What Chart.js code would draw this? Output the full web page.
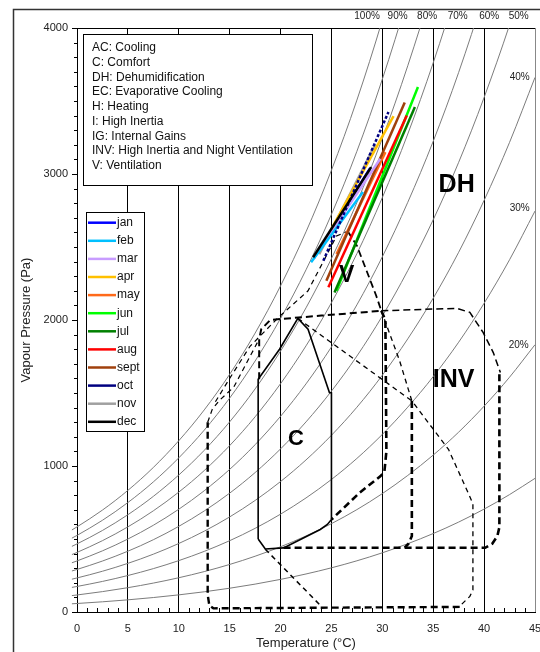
<!DOCTYPE html>
<html>
<head>
<meta charset="utf-8">
<script src="https://cdn.jsdelivr.net/npm/chart.js@4/dist/chart.umd.min.js"></script>
<style>
  html, body { margin: 0; padding: 0; background: #fff; }
  #wrap { width: 540px; height: 652px; }
</style>
</head>
<body>
<div id="wrap"><canvas id="chart" width="540" height="652"></canvas></div>
<script>
// saturation vapour pressure (Pa)
const satTemps = [-0.5, 0, 2.5, 5, 7.5, 10, 12.5, 15, 17.5, 20, 22.5, 25, 27.5, 30, 32.5, 35, 37.5, 40, 42.5, 45];
const satPressure = [562, 583, 698, 833, 990, 1173, 1384, 1628, 1910, 2234, 2604, 3026, 3506, 4055, 4677, 5374, 6160, 7049, 8042, 9154];
const rhLevels = [10, 20, 30, 40, 50, 60, 70, 80, 90, 100];

// relative humidity labels, placed at the curve ends
const rhLabelText = ['100%', '90%', '80%', '70%', '60%', '50%', '40%', '30%', '20%'];
const rhLabelT = [28.5, 31.5, 34.4, 37.4, 40.5, 43.4, 43.5, 43.5, 43.4];
const rhLabelP = [4080, 4080, 4080, 4080, 4080, 4080, 3660, 2768, 1828];

// monthly lines (low end -> high end)
const months = ['jan', 'feb', 'mar', 'apr', 'may', 'jun', 'jul', 'aug', 'sept', 'oct', 'nov', 'dec'];
const monthColors = ['#0000ff', '#00c0ff', '#c89cff', '#ffc000', '#ff6a1a', '#00ff00', '#008000', '#ff0000', '#a0400c', '#000080', '#a0a0a0', '#000000'];
const monthTLow = [23.3, 23.0, 23.4, 25.0, 25.5, 25.5, 25.3, 24.7, 24.5, 24.2, 23.8, 23.2];
const monthPLow = [2425, 2395, 2440, 2624, 2452, 2200, 2189, 2224, 2269, 2406, 2450, 2430];
const monthTHigh = [28.8, 28.1, 29.8, 31.1, 30.3, 33.5, 33.2, 32.4, 32.2, 30.6, 29.3, 28.9];
const monthPHigh = [3040, 2876, 3104, 3397, 3150, 3596, 3459, 3401, 3489, 3424, 3200, 3047];
const monthOrder = [12, 5, 6, 4, 8, 11, 10, 9, 7, 3, 13, 1];

// zone boundaries [temperature, vapour pressure]
const comfortZone = [[17.8, 500], [17.8, 1594], [19.9, 1800], [21.7, 2011], [22.7, 1937], [24.8, 1503], [25, 1500], [25, 633], [24.6, 600], [23.9, 565], [20.3, 439], [18.5, 432], [17.8, 500]];
const ventTopLeft = [[17.9, 1594], [17.9, 1869], [18.1, 1937], [19.0, 2001], [24, 2030], [29.9, 2063]];
const ventRight = [[29.9, 2063], [30.3, 2000], [30.4, 1100], [30.2, 960], [29.8, 929], [27.8, 819], [25, 633]];
const ventPeakRight = [[26.6, 2608], [27.5, 2509], [29.4, 2166], [29.9, 2063]];
const invOuter = [[20.3, 440], [40.1, 440], [40.8, 468], [41.3, 520], [41.5, 580], [41.5, 1640]];
const invTop = [[29.9, 2063], [37.3, 2080], [38.6, 2052], [39.9, 1915], [40.9, 1777], [41.6, 1640]];
const inertiaRight = [[32.9, 1446], [32.9, 520], [32.6, 470], [32.2, 440]];
const comfortDiag = [[21.7, 2011], [32.9, 1446]];
const evapRight = [[29.9, 2063], [31.7, 1720], [32.9, 1446], [36.5, 1114], [38.6, 790], [38.9, 740], [38.9, 150], [38.6, 107], [37.6, 40]];
const heatingZone = [[37.6, 35], [13.4, 25], [13.0, 45], [12.84, 120], [12.84, 1300]];
const comfortToBottom = [[18.5, 430], [24.0, 39]];
const leftLower = [[12.84, 1300], [13.3, 1390], [14.0, 1450], [15.4, 1540], [17.9, 1869]];
const leftUpper = [[13.6, 1440], [15.0, 1600], [17.0, 1820], [19.8, 2018], [22.7, 2200], [25.5, 2575], [26.6, 2608]];

const zoneLabels = [
  { text: 'DH', t: 37.3, p: 2926, size: 25 },
  { text: 'V', t: 26.5, p: 2301, size: 23 },
  { text: 'INV', t: 37.0, p: 1587, size: 25 },
  { text: 'C', t: 21.5, p: 1182, size: 22 }
];
const legendText = ['AC: Cooling', 'C: Comfort', 'DH: Dehumidification', 'EC: Evaporative Cooling', 'H: Heating',
  'I: High Inertia', 'IG: Internal Gains', 'INV: High Inertia and Night Ventilation', 'V: Ventilation'];

const FONT = 'Liberation Sans, Arial, sans-serif';
Chart.defaults.font.family = FONT;

function zoneSet(points, width, dash) {
  return {
    data: points.map(p => ({ x: p[0], y: p[1] })),
    showLine: true, borderColor: '#000', borderWidth: width, borderDash: dash,
    pointRadius: 0, tension: 0, order: 20
  };
}

const datasets = [];
months.forEach((m, i) => {
  datasets.push({
    label: m,
    data: [{ x: monthTLow[i], y: monthPLow[i] }, { x: monthTHigh[i], y: monthPHigh[i] }],
    showLine: true, borderColor: monthColors[i], borderWidth: 2.5, pointRadius: 0,
    borderDash: m === 'oct' ? [3, 2] : [], order: monthOrder[i]
  });
});
const THICK = [7, 4], THIN = [5, 4];
datasets.push(zoneSet(comfortZone, 1.6, []));
datasets.push(zoneSet(ventTopLeft, 2, THICK));
datasets.push(zoneSet(ventRight, 2.6, THICK));
datasets.push(zoneSet(ventPeakRight, 1.8, THICK));
datasets.push(zoneSet(invOuter, 2.6, THICK));
datasets.push(zoneSet(invTop, 1.5, THICK));
datasets.push(zoneSet(inertiaRight, 2.6, THICK));
datasets.push(zoneSet(comfortDiag, 1.3, THIN));
datasets.push(zoneSet(evapRight, 1.3, THIN));
datasets.push(zoneSet(heatingZone, 2.4, THICK));
datasets.push(zoneSet(comfortToBottom, 1.5, THIN));
datasets.push(zoneSet(leftLower, 1.2, THIN));
datasets.push(zoneSet(leftUpper, 1.2, THIN));

rhLevels.forEach(rh => {
  datasets.push({
    data: satTemps.map((t, i) => ({ x: t, y: satPressure[i] * rh / 100 })),
    showLine: true, borderColor: '#7c7c7c', borderWidth: 1, pointRadius: 0,
    cubicInterpolationMode: 'monotone', clip: { left: 7, top: 0, right: 0, bottom: 0 }, order: 30
  });
});

const decor = {
  id: 'decor',
  beforeDraw(chart) {
    const c = chart.ctx;
    c.save();
    c.fillStyle = '#fff';
    c.fillRect(0, 0, chart.width, chart.height);
    c.strokeStyle = '#333';
    c.lineWidth = 1.5;
    c.beginPath();
    c.moveTo(13.5, chart.height); c.lineTo(13.5, 9.5); c.lineTo(chart.width, 9.5);
    c.stroke();
    c.restore();
  },
  beforeDatasetsDraw(chart) {
    const { ctx: c, chartArea: a, scales: { x, y } } = chart;
    c.save();
    c.strokeStyle = '#000';
    c.lineWidth = 1;
    c.beginPath();
    c.moveTo(a.left, a.top + 0.5); c.lineTo(a.right, a.top + 0.5);
    for (let v = 100; v < 4000; v += 100) {
      if (v % 1000 === 0) continue;
      const py = Math.round(y.getPixelForValue(v)) + 0.5;
      c.moveTo(a.left - 3, py); c.lineTo(a.left, py);
    }
    for (let t = 1; t < 45; t++) {
      if (t % 5 === 0) continue;
      const px = Math.round(x.getPixelForValue(t)) + 0.5;
      c.moveTo(px, a.bottom); c.lineTo(px, a.bottom - 4);
    }
    c.stroke();

    // text legend
    c.fillStyle = '#fff';
    c.fillRect(83.5, 34.5, 229, 151);
    c.strokeRect(83.5, 34.5, 229, 151);
    c.fillStyle = '#111';
    c.font = '12px ' + FONT;
    c.textBaseline = 'middle';
    c.textAlign = 'left';
    legendText.forEach((s, i) => c.fillText(s, 92, 48 + i * 14.7));

    // month legend
    c.fillStyle = '#fff';
    c.fillRect(86.5, 212.5, 58, 219);
    c.strokeStyle = '#000';
    c.strokeRect(86.5, 212.5, 58, 219);
    months.forEach((m, i) => {
      const ry = 222.7 + i * 18.1;
      c.strokeStyle = monthColors[i];
      c.lineWidth = 2.5;
      c.beginPath(); c.moveTo(88, ry); c.lineTo(116, ry); c.stroke();
      c.fillStyle = '#111';
      c.fillText(m, 117, ry);
    });
    c.restore();
  },
  afterDatasetsDraw(chart) {
    const { ctx: c, scales: { x, y } } = chart;
    c.save();
    c.fillStyle = '#000';
    c.textAlign = 'center';
    c.textBaseline = 'middle';
    zoneLabels.forEach(l => {
      c.font = 'bold ' + l.size + 'px ' + FONT;
      c.fillText(l.text, x.getPixelForValue(l.t), y.getPixelForValue(l.p));
    });
    c.font = '10px ' + FONT;
    c.fillStyle = '#222';
    rhLabelText.forEach((s, i) => c.fillText(s, x.getPixelForValue(rhLabelT[i]), y.getPixelForValue(rhLabelP[i])));
    c.restore();
  }
};

new Chart(document.getElementById('chart'), {
  type: 'scatter',
  data: { datasets },
  options: {
    responsive: false,
    animation: false,
    devicePixelRatio: 1,
    layout: { padding: { left: 14, right: 5, top: 28, bottom: 0 } },
    plugins: { legend: { display: false }, tooltip: { enabled: false } },
    scales: {
      x: {
        type: 'linear', min: 0, max: 45,
        afterFit: s => { s.height = 40; s.paddingLeft = 0; s.paddingRight = 0; },
        ticks: { stepSize: 5, padding: 10, color: '#222', font: { size: 11 } },
        grid: { drawTicks: false, lineWidth: 1, color: ctx => (ctx.tick && ctx.tick.value === 45) ? '#888' : '#000' },
        border: { color: '#000', width: 1 },
        title: { display: true, text: 'Temperature (°C)', color: '#222', font: { size: 13 }, padding: { top: 0, bottom: 1 } }
      },
      y: {
        type: 'linear', min: 0, max: 4000,
        afterFit: s => { s.width = 63; s.paddingTop = 0; s.paddingBottom = 0; },
        ticks: { stepSize: 1000, padding: 4, color: '#222', font: { size: 11 }, callback: v => String(v) },
        grid: { drawOnChartArea: false, drawTicks: true, tickLength: 5, color: '#000' },
        border: { color: '#000', width: 1 },
        title: { display: true, text: 'Vapour Pressure (Pa)', color: '#222', font: { size: 13 }, padding: { top: 5, bottom: 0 } }
      }
    }
  },
  plugins: [decor]
});
</script>
</body>
</html>
